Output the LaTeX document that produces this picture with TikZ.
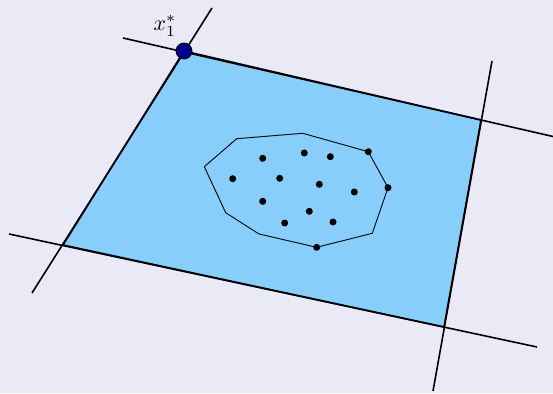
\documentclass[tikz,border=0pt]{standalone}
\usepackage{amsmath}
\usepackage{tikz}

\definecolor{bglavender}{RGB}{234,234,246}
\definecolor{feasible}{RGB}{135,206,250}
\definecolor{optdot}{RGB}{0,0,140}

\begin{document}
\begin{tikzpicture}[x=1pt, y=1pt, constraint/.style={line width=1.6pt}, hull/.style={line width=0.9pt}]
  % background
  \fill[bglavender] (0,0) rectangle (553,393);
  \useasboundingbox (0,0) rectangle (553,393);
  % corners of the feasible region
  \coordinate (A) at (184,342);
  \coordinate (B) at (481,273);
  \coordinate (C) at (444,66);
  \coordinate (D) at (63,148);
  % feasible region
  \fill[feasible] (A) -- (B) -- (C) -- (D) -- cycle;
  \draw[constraint] (A) -- (B) -- (C) -- (D) -- cycle;
  % constraint lines
  \draw[constraint] (123,355) -- (553,256.5);
  \draw[constraint] (212,385) -- (32,100);
  \draw[constraint] (9,159) -- (537,46);
  \draw[constraint] (492,332) -- (433,2);
  % convex hull of the samples
  \draw[hull] (204.3,226.3) -- (236.7,254.3) -- (302.7,259.7) -- (368.3,241.3)
    -- (388,205.3) -- (372.3,159.7) -- (316.7,145.7) -- (259,159)
    -- (225.7,180.3) -- cycle;
  % samples
  \foreach \p in {(262.7,234.7), (304.3,240), (330.3,236.3), (232.7,214.3),
      (279.7,214.7), (319.3,208.7), (354.3,201), (262.7,191.7), (309.3,181.7),
      (284.7,170), (333,171), (368.3,241.3), (388,205.3), (316.7,145.7)}
    \fill \p circle (3.5);
  % optimum
  \filldraw[fill=optdot, draw=black, line width=0.8pt] (A) circle (8);
  \node[scale=2.2] (xopt) at (165,367) {$x_1^*$};
\end{tikzpicture}
\end{document}
